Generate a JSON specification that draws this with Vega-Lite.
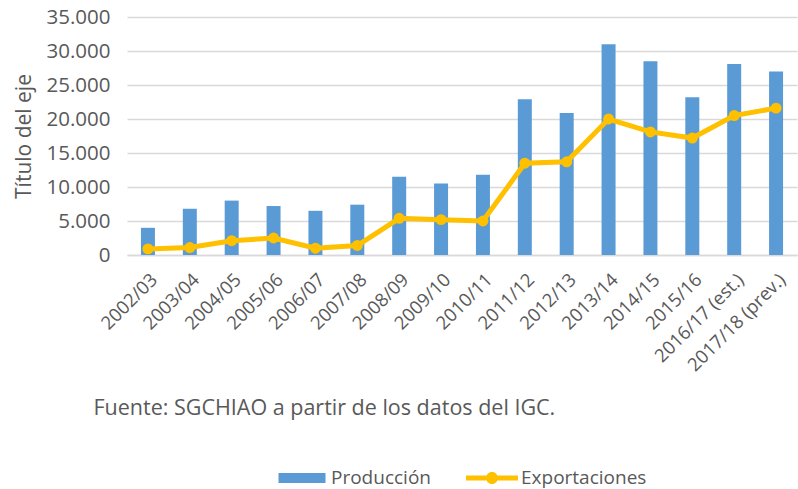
{
  "$schema": "https://vega.github.io/schema/vega-lite/v6.json",
  "autosize": {"type": "none"},
  "width": 670,
  "height": 238,
  "padding": {"left": 127, "top": 17, "right": 1, "bottom": 234},
  "background": "white",
  "config": {
    "view": {"stroke": null},
    "font": "Open Sans",
    "axis": {"labelFont": "Open Sans", "titleFont": "Open Sans", "labelColor": "#595959", "titleColor": "#595959", "titleFontWeight": "normal"}
  },
  "data": {
    "values": [
      {"temporada": "2002/03", "serie": "Producción", "valor": 4000},
      {"temporada": "2003/04", "serie": "Producción", "valor": 6800},
      {"temporada": "2004/05", "serie": "Producción", "valor": 8000},
      {"temporada": "2005/06", "serie": "Producción", "valor": 7200},
      {"temporada": "2006/07", "serie": "Producción", "valor": 6500},
      {"temporada": "2007/08", "serie": "Producción", "valor": 7400},
      {"temporada": "2008/09", "serie": "Producción", "valor": 11500},
      {"temporada": "2009/10", "serie": "Producción", "valor": 10500},
      {"temporada": "2010/11", "serie": "Producción", "valor": 11800},
      {"temporada": "2011/12", "serie": "Producción", "valor": 22900},
      {"temporada": "2012/13", "serie": "Producción", "valor": 20900},
      {"temporada": "2013/14", "serie": "Producción", "valor": 31000},
      {"temporada": "2014/15", "serie": "Producción", "valor": 28500},
      {"temporada": "2015/16", "serie": "Producción", "valor": 23200},
      {"temporada": "2016/17 (est.)", "serie": "Producción", "valor": 28100},
      {"temporada": "2017/18 (prev.)", "serie": "Producción", "valor": 27000},
      {"temporada": "2002/03", "serie": "Exportaciones", "valor": 900},
      {"temporada": "2003/04", "serie": "Exportaciones", "valor": 1100},
      {"temporada": "2004/05", "serie": "Exportaciones", "valor": 2100},
      {"temporada": "2005/06", "serie": "Exportaciones", "valor": 2500},
      {"temporada": "2006/07", "serie": "Exportaciones", "valor": 1000},
      {"temporada": "2007/08", "serie": "Exportaciones", "valor": 1400},
      {"temporada": "2008/09", "serie": "Exportaciones", "valor": 5400},
      {"temporada": "2009/10", "serie": "Exportaciones", "valor": 5200},
      {"temporada": "2010/11", "serie": "Exportaciones", "valor": 5000},
      {"temporada": "2011/12", "serie": "Exportaciones", "valor": 13500},
      {"temporada": "2012/13", "serie": "Exportaciones", "valor": 13700},
      {"temporada": "2013/14", "serie": "Exportaciones", "valor": 20000},
      {"temporada": "2014/15", "serie": "Exportaciones", "valor": 18100},
      {"temporada": "2015/16", "serie": "Exportaciones", "valor": 17200},
      {"temporada": "2016/17 (est.)", "serie": "Exportaciones", "valor": 20500},
      {"temporada": "2017/18 (prev.)", "serie": "Exportaciones", "valor": 21600}
    ]
  },
  "encoding": {
    "x": {
      "field": "temporada",
      "type": "nominal",
      "sort": null,
      "scale": {"paddingInner": 0, "paddingOuter": 0},
      "axis": {
        "title": "Fuente: SGCHIAO a partir de los datos del IGC.",
        "titleFontSize": 21.5,
        "titleAnchor": "start",
        "titleAlign": "left",
        "titleBaseline": "top",
        "titleX": -34,
        "titleY": 142,
        "labelAngle": -45,
        "labelFontSize": 18.5,
        "labelPadding": 15,
        "ticks": false,
        "domainColor": "#d9d9d9",
        "domainWidth": 1.5,
        "grid": false
      }
    },
    "y": {
      "field": "valor",
      "type": "quantitative",
      "scale": {"domain": [0, 35000], "nice": false},
      "axis": {
        "title": "Título del eje",
        "titleFontSize": 21,
        "titleX": -93,
        "values": [0, 5000, 10000, 15000, 20000, 25000, 30000, 35000],
        "labelExpr": "replace(format(datum.value, ','), ',', '.')",
        "labelFontSize": 20.5,
        "labelPadding": 17,
        "ticks": false,
        "domain": false,
        "gridColor": "#d9d9d9",
        "gridWidth": 1.5
      }
    },
    "color": {
      "field": "serie",
      "type": "nominal",
      "scale": {"domain": ["Producción", "Exportaciones"], "range": ["#5b9bd5", "#ffc000"]},
      "legend": {
        "orient": "none",
        "legendX": 150,
        "legendY": 436,
        "direction": "horizontal",
        "title": null,
        "symbolSize": 2500,
        "labelFont": "Open Sans",
        "labelFontSize": 19,
        "labelColor": "#595959",
        "labelOffset": 4,
        "columnPadding": 35,
        "padding": 0,
        "encode": {
          "symbols": {
            "update": {
              "shape": {"signal": "datum.value === 'Producción' ? 'M-0.94,-0.2H0.94V0.2H-0.94Z' : 'M-1.04,-0.1H1.04V0.1H-1.04Z M0.24,0A0.24,0.24 0 1,1 -0.24,0A0.24,0.24 0 1,1 0.24,0Z'"},
              "fill": {"signal": "datum.value === 'Producción' ? '#5b9bd5' : '#ffc000'"},
              "stroke": {"value": "transparent"},
              "strokeWidth": {"value": 0},
              "opacity": {"value": 1}
            }
          }
        }
      }
    }
  },
  "layer": [
    {
      "transform": [{"filter": "datum.serie === 'Producción'"}],
      "mark": {"type": "bar", "size": 14}
    },
    {
      "transform": [{"filter": "datum.serie === 'Exportaciones'"}],
      "mark": {"type": "line", "strokeWidth": 5, "point": {"filled": true, "size": 120}},
      "encoding": {"x": {"field": "temporada", "type": "nominal", "sort": null, "bandPosition": 0.5}}
    }
  ]
}
